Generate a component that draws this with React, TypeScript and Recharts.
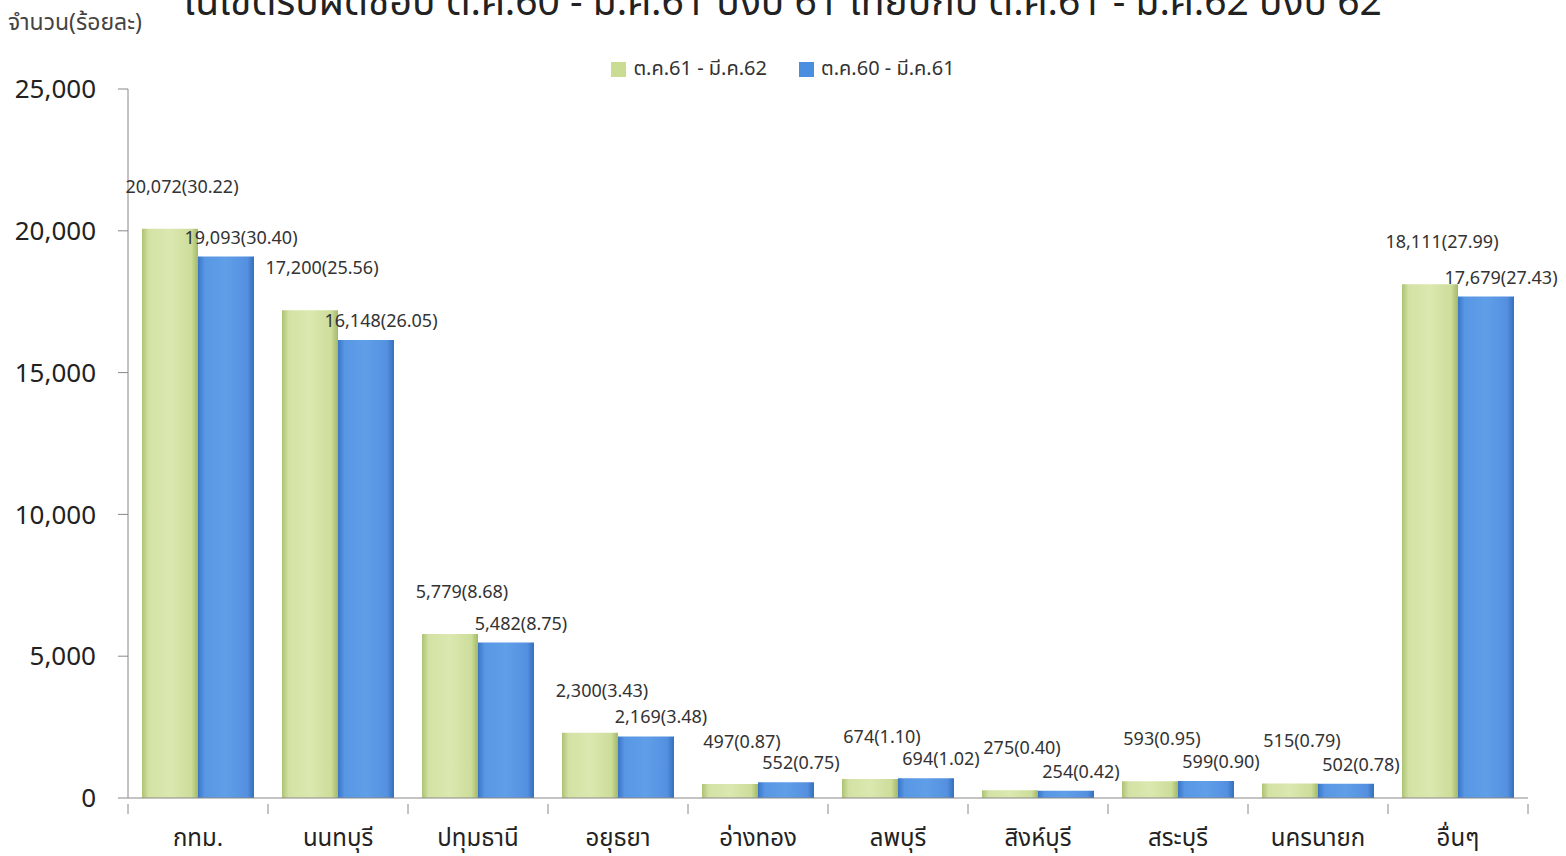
import { BarChart, Bar, XAxis, YAxis, Legend, LabelList } from 'recharts'

const provinces = ['กทม.', 'นนทบุรี', 'ปทุมธานี', 'อยุธยา', 'อ่างทอง', 'ลพบุรี', 'สิงห์บุรี', 'สระบุรี', 'นครนายก', 'อื่นๆ']
const fy62 = [20072, 17200, 5779, 2300, 497, 674, 275, 593, 515, 18111]
const fy62Pct = [30.22, 25.56, 8.68, 3.43, 0.87, 1.1, 0.4, 0.95, 0.79, 27.99]
const fy61 = [19093, 16148, 5482, 2169, 552, 694, 254, 599, 502, 17679]
const fy61Pct = [30.4, 26.05, 8.75, 3.48, 0.75, 1.02, 0.42, 0.9, 0.78, 27.43]
const yTicks = [0, 5000, 10000, 15000, 20000, 25000]

const seriesNames = ['ต.ค.61 - มี.ค.62', 'ต.ค.60 - มี.ค.61']
const title = 'ในเขตรับผิดชอบ ต.ค.60 - มี.ค.61 ปีงบ 61 เทียบกับ ต.ค.61 - มี.ค.62 ปีงบ 62'

const FONT = "Tahoma, 'Noto Sans Thai', 'Noto Sans', 'DejaVu Sans', sans-serif"

const W = 1566
const H = 856
const M = { top: 89, right: 38, bottom: 0, left: 0 }
const Y_W = 128
const HALF_BAND = (W - Y_W - M.right) / provinces.length / 2

const data = provinces.map((name, i) => ({
  name,
  fy62: fy62[i],
  fy61: fy61[i],
}))

const fmt = (n: number) => n.toLocaleString('en-US')

function makeLabel(pcts: number[], dx: number, dy: number) {
  return (props: any) => {
    const { x, y, width, index, value } = props
    return (
      <text
        x={x + width / 2 + dx}
        y={y - dy}
        textAnchor="middle"
        fontSize={18}
        fill="#333"
        fontFamily={FONT}
      >
        {`${fmt(value)}(${pcts[index].toFixed(2)})`}
      </text>
    )
  }
}

function CategoryTick(props: any) {
  const { x, y, payload, index } = props
  const last = index === provinces.length - 1
  return (
    <g>
      <line x1={x - HALF_BAND} x2={x - HALF_BAND} y1={y - 2} y2={y + 8} stroke="#888" />
      {last && <line x1={x + HALF_BAND} x2={x + HALF_BAND} y1={y - 2} y2={y + 8} stroke="#888" />}
      <text x={x} y={y + 40} textAnchor="middle" fontSize={24} fill="#222" fontFamily={FONT}>
        {payload.value}
      </text>
    </g>
  )
}

function LegendContent() {
  const items = [
    { name: seriesNames[0], color: '#c9dc92' },
    { name: seriesNames[1], color: '#4a8ee0' },
  ]
  return (
    <div style={{ display: 'flex', justifyContent: 'center', gap: 32, fontFamily: FONT, fontSize: 20, color: '#333' }}>
      {items.map((it) => (
        <div key={it.name} style={{ display: 'flex', alignItems: 'center', gap: 7 }}>
          <span style={{ width: 15, height: 15, background: it.color, display: 'inline-block' }} />
          <span>{it.name}</span>
        </div>
      ))}
    </div>
  )
}

export default function App() {
  return (
    <div style={{ position: 'absolute', left: 0, top: 0, width: W, height: H, overflow: 'hidden', background: '#fff' }}>
      <div
        style={{
          position: 'absolute',
          left: 0,
          width: W,
          top: -26,
          textAlign: 'center',
          fontFamily: FONT,
          fontSize: 39,
          color: '#222',
          whiteSpace: 'nowrap',
        }}
      >
        {title}
      </div>
      <div style={{ position: 'absolute', left: 8, top: 6, fontFamily: FONT, fontSize: 23, color: '#444' }}>
        จำนวน(ร้อยละ)
      </div>
      <BarChart
        width={W}
        height={H}
        data={data}
        margin={M}
        barCategoryGap="10%"
        barGap={0}
      >
        <defs>
          <linearGradient id="gGreen" x1="0" y1="0" x2="1" y2="0">
            <stop offset="0%" stopColor="#adc273" />
            <stop offset="12%" stopColor="#d3e2a4" />
            <stop offset="50%" stopColor="#dbe8b0" />
            <stop offset="88%" stopColor="#cddd9a" />
            <stop offset="100%" stopColor="#a3b966" />
          </linearGradient>
          <linearGradient id="gBlue" x1="0" y1="0" x2="1" y2="0">
            <stop offset="0%" stopColor="#3a76c8" />
            <stop offset="12%" stopColor="#5897e4" />
            <stop offset="50%" stopColor="#609ee8" />
            <stop offset="88%" stopColor="#5490df" />
            <stop offset="100%" stopColor="#356fbf" />
          </linearGradient>
        </defs>
        <XAxis
          dataKey="name"
          height={58}
          tickLine={false}
          axisLine={{ stroke: '#888' }}
          tick={<CategoryTick />}
          interval={0}
        />
        <YAxis
          width={Y_W}
          domain={[0, 25000]}
          ticks={yTicks}
          tickFormatter={fmt}
          axisLine={{ stroke: '#888' }}
          tickLine={{ stroke: '#888' }}
          tickSize={10}
          tick={{ fontSize: 26, fill: '#222', fontFamily: FONT, dx: -20 }}
        />
        <Legend
          verticalAlign="middle"
          align="center"
          layout="horizontal"
          wrapperStyle={{ top: 54, left: 0, width: W }}
          content={<LegendContent />}
        />
        <Bar dataKey="fy62" name={seriesNames[0]} fill="url(#gGreen)" isAnimationActive={false}>
          <LabelList dataKey="fy62" content={makeLabel(fy62Pct, 12, 36)} />
        </Bar>
        <Bar dataKey="fy61" name={seriesNames[1]} fill="url(#gBlue)" isAnimationActive={false}>
          <LabelList dataKey="fy61" content={makeLabel(fy61Pct, 15, 13)} />
        </Bar>
      </BarChart>
    </div>
  )
}
